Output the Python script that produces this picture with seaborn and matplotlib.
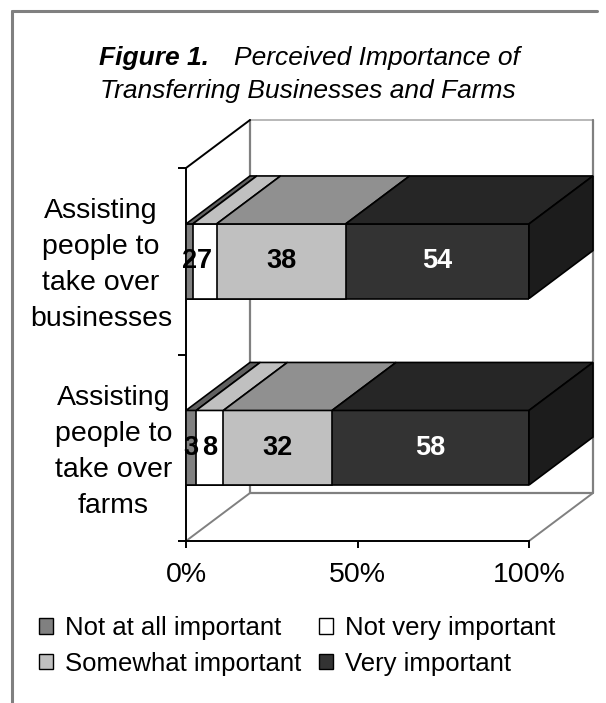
import numpy as np
import matplotlib
matplotlib.use("Agg")
import matplotlib.pyplot as plt
import matplotlib.transforms as mtransforms
from matplotlib.patches import Polygon, Patch
from matplotlib.lines import Line2D
import seaborn as sns

# ==== data ====
categories = ["Assisting\npeople to\ntake over\nbusinesses",
              "Assisting\npeople to\ntake over\nfarms"]
levels = ["Not at all important", "Not very important",
          "Somewhat important", "Very important"]
not_at_all = [2, 3]
not_very = [7, 8]
somewhat = [38, 32]
very = [54, 58]
x_ticks = [0, 50, 100]
x_tick_labels = ["0%", "50%", "100%"]

# ==== styles ====
front_colors = ["#808080", "#ffffff", "#c0c0c0", "#333333"]
top_colors = ["#606060", "#c0c0c0", "#909090", "#262626"]
side_color = "#1c1c1c"
label_colors = ["black", "black", "black", "white"]
wall_gray = "#808080"

sns.set_style("white")
plt.rcParams["font.family"] = ["Liberation Sans", "DejaVu Sans"]
plt.rcParams["text.color"] = "black"
plt.rcParams["xtick.color"] = "black"
plt.rcParams["ytick.color"] = "black"

counts = np.array([not_at_all, not_very, somewhat, very], dtype=float)
pct = counts / counts.sum(axis=0) * 100  # 100% stacked, like Excel
cum = np.cumsum(pct, axis=0)
starts = cum - pct

fig = plt.figure(figsize=(6.06, 7.03), dpi=100)
ax = fig.add_axes([186 / 606, 162 / 703, 343 / 606, 373 / 703])

bar_w = 0.4
# stacked bars: draw cumulative totals from the longest to the shortest
for k in range(len(levels) - 1, -1, -1):
    sns.barplot(x=cum[k], y=categories, orient="h", color=front_colors[k],
                saturation=1, width=bar_w, edgecolor="black", linewidth=1.2,
                errorbar=None, ax=ax, zorder=3)

ax.set_xlim(0, 100)
ax.set_ylim(1.5, -0.5)

# === 3-D depth: constant offset in pixels, mapped back to data units ===
depth = mtransforms.ScaledTranslation(64 / 100, 48 / 100, fig.dpi_scale_trans)
to_data = ax.transData.inverted()


def back(pts):
    pts = np.atleast_2d(pts)
    return to_data.transform((ax.transData + depth).transform(pts))


def face(p0, p1):
    front = np.array([p0, p1])
    return np.vstack([front, back(front)[::-1]])


def line(p0, p1, color, z=0.5):
    pts = np.array([p0, p1])
    ax.add_line(Line2D(pts[:, 0], pts[:, 1], color=color, lw=1.4,
                       clip_on=False, zorder=z))


# walls / floor
y_top, y_bot = -0.5, 1.5
wall = back([(0, y_top), (100, y_top), (100, y_bot), (0, y_bot)])
ax.add_line(Line2D(wall[:2, 0], wall[:2, 1], color="#b8b8b8", lw=1.4, clip_on=False, zorder=0.5))
ax.add_line(Line2D(wall[1:, 0], wall[1:, 1], color=wall_gray, lw=1.6, clip_on=False, zorder=0.5))
ax.add_line(Line2D(wall[[3, 0], 0], wall[[3, 0], 1], color=wall_gray, lw=1.6, clip_on=False, zorder=0.5))
line((0, y_top), back((0, y_top))[0], "black", z=0.6)
line((0, y_bot), back((0, y_bot))[0], wall_gray)
line((100, y_bot), back((100, y_bot))[0], wall_gray)

# top faces and right side of every bar
for i, _ in enumerate(categories):
    yt, yb = i - bar_w / 2, i + bar_w / 2
    for k in range(len(levels)):
        ax.add_patch(Polygon(face((starts[k, i], yt), (cum[k, i], yt)),
                             facecolor=top_colors[k], edgecolor="black",
                             lw=1.2, clip_on=False, zorder=3))
    ax.add_patch(Polygon(face((cum[-1, i], yt), (cum[-1, i], yb)),
                         facecolor=side_color, edgecolor="black",
                         lw=1.2, clip_on=False, zorder=3))
    for k in range(len(levels)):
        ax.text(starts[k, i] + pct[k, i] / 2, i, f"{counts[k, i]:.0f}",
                ha="center", va="center", fontsize=19.5, fontweight="bold",
                color=label_colors[k], zorder=5)

# axes / ticks
for s in ["top", "right"]:
    ax.spines[s].set_visible(False)
for s in ["left", "bottom"]:
    ax.spines[s].set_color("black")
    ax.spines[s].set_linewidth(1.4)
ax.set_xlabel("")
ax.set_ylabel("")
ax.set_xticks(x_ticks, x_tick_labels)
ax.set_yticks([-0.5, 0.5, 1.5], ["", "", ""])
ax.set_yticks([0, 1], categories, minor=True)
ax.tick_params(axis="x", bottom=True, length=5, width=1.4, color="black",
               direction="out", pad=10, labelsize=20.5)
ax.tick_params(axis="y", which="major", left=True, length=6, width=1.4,
               color="black", direction="out")
ax.tick_params(axis="y", which="minor", left=True, length=0, pad=10, labelsize=20.5)
lift = mtransforms.ScaledTranslation(0, 4 / 100, fig.dpi_scale_trans)
for lbl in ax.get_yticklabels(minor=True):
    lbl.set_multialignment("center")
    lbl.set_linespacing(1.5)
    lbl.set_transform(lbl.get_transform() + lift)

# title
fig.text(99 / 606, 1 - 65 / 703, "Figure 1.", fontsize=19, fontweight="bold",
         fontstyle="italic", ha="left", va="baseline")
fig.text(520 / 606, 1 - 65 / 703, "Perceived Importance of", fontsize=19,
         fontstyle="italic", ha="right", va="baseline")
fig.text(308 / 606, 1 - 98 / 703, "Transferring Businesses and Farms",
         fontsize=19, fontstyle="italic", ha="center", va="baseline")

# legend: row-wise order in 2 columns
handles = [Patch(facecolor=c, edgecolor="black", lw=1) for c in front_colors]
order = [0, 2, 1, 3]
fig.legend([handles[j] for j in order], [levels[j] for j in order], ncol=2,
           loc="upper left", bbox_to_anchor=(39 / 606, 1 - 616 / 703),
           frameon=False, fontsize=18.5, handlelength=0.55, handleheight=0.55,
           handletextpad=0.45, columnspacing=0.7, labelspacing=0.45,
           borderpad=0, borderaxespad=0)

# chart-area border (left and top only, as in the source)
fig.add_artist(Line2D([12 / 606, 12 / 606], [0, 1 - 11 / 703],
                      transform=fig.transFigure, color=wall_gray, lw=2.2))
fig.add_artist(Line2D([12 / 606, 597 / 606], [1 - 11 / 703, 1 - 11 / 703],
                      transform=fig.transFigure, color=wall_gray, lw=2.2))

fig.savefig("out.png", dpi=100)
